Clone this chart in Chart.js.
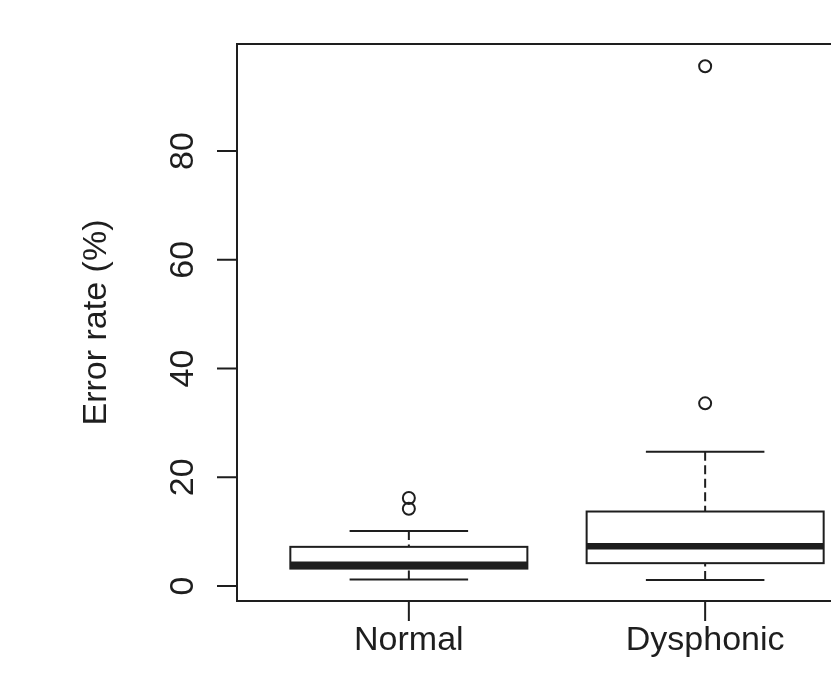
<!DOCTYPE html>
<html><head><meta charset="utf-8">
<script src="https://cdn.jsdelivr.net/npm/chart.js@4.4.1/dist/chart.umd.min.js"></script>
<style>
html,body{margin:0;padding:0;background:#fff;overflow:hidden;width:831px;height:691px}
#wrap{position:absolute;left:0;top:0;width:880px;height:691px}
</style>
</head><body><div id="wrap"><canvas id="c" width="880" height="691"></canvas></div>
<script>
const categories = ['Normal', 'Dysphonic'];
const whiskerLow = [1.2, 1.1];
const q1 = [3.2, 4.2];
const median = [3.9, 7.3];
const q3 = [7.2, 13.7];
const whiskerHigh = [10.1, 24.7];
const outliers = [[16.2, 14.2], [33.6, 95.6]];
const yTicks = [0, 20, 40, 60, 80];
const yTitle = 'Error rate (%)';

const FONT = '34px "Liberation Sans", Arial, sans-serif';
const INK = '#1e1e1e';

const outlierPoints = [];
outliers.forEach((arr, i) => arr.forEach(v => outlierPoints.push({x: i + 1, y: v})));

const boxPlugin = {
  id: 'boxplot',
  beforeDatasetsDraw(chart) {
    const ctx = chart.ctx, xs = chart.scales.x, ys = chart.scales.y;
    ctx.save();
    ctx.strokeStyle = INK;
    ctx.lineCap = 'butt';
    categories.forEach((c, i) => {
      const pos = i + 1;
      const xc = xs.getPixelForValue(pos);
      const bl = xs.getPixelForValue(pos - 0.4), br = xs.getPixelForValue(pos + 0.4);
      const cl = xs.getPixelForValue(pos - 0.2), cr = xs.getPixelForValue(pos + 0.2);
      const yLo = ys.getPixelForValue(whiskerLow[i]), yQ1 = ys.getPixelForValue(q1[i]);
      const yMed = ys.getPixelForValue(median[i]), yQ3 = ys.getPixelForValue(q3[i]);
      const yHi = ys.getPixelForValue(whiskerHigh[i]);
      ctx.lineWidth = 2;
      ctx.setLineDash([9, 4.5]);
      ctx.beginPath(); ctx.moveTo(xc, yLo); ctx.lineTo(xc, yQ1); ctx.stroke();
      ctx.beginPath(); ctx.moveTo(xc, yHi); ctx.lineTo(xc, yQ3); ctx.stroke();
      ctx.setLineDash([]);
      ctx.beginPath(); ctx.moveTo(cl, yLo); ctx.lineTo(cr, yLo); ctx.stroke();
      ctx.beginPath(); ctx.moveTo(cl, yHi); ctx.lineTo(cr, yHi); ctx.stroke();
      ctx.strokeRect(bl, yQ3, br - bl, yQ1 - yQ3);
      ctx.lineWidth = 6.5;
      ctx.beginPath(); ctx.moveTo(bl, yMed); ctx.lineTo(br, yMed); ctx.stroke();
    });
    ctx.restore();
  },
  afterDraw(chart) {
    const ctx = chart.ctx, xs = chart.scales.x, ys = chart.scales.y, a = chart.chartArea;
    ctx.save();
    ctx.strokeStyle = INK; ctx.lineWidth = 2;
    ctx.strokeRect(a.left, a.top, a.right - a.left, a.bottom - a.top);
    ctx.beginPath();
    yTicks.forEach(t => { const y = ys.getPixelForValue(t); ctx.moveTo(a.left - 20, y); ctx.lineTo(a.left, y); });
    categories.forEach((c, i) => { const x = xs.getPixelForValue(i + 1); ctx.moveTo(x, a.bottom); ctx.lineTo(x, a.bottom + 20); });
    ctx.stroke();
    ctx.fillStyle = INK; ctx.font = FONT;
    ctx.textAlign = 'center'; ctx.textBaseline = 'alphabetic';
    yTicks.forEach(t => {
      const y = ys.getPixelForValue(t);
      ctx.save(); ctx.translate(193, y); ctx.rotate(-Math.PI / 2); ctx.fillText(String(t), 0, 0); ctx.restore();
    });
    ctx.save(); ctx.translate(106, (a.top + a.bottom) / 2); ctx.rotate(-Math.PI / 2); ctx.fillText(yTitle, 0, 0); ctx.restore();
    categories.forEach((c, i) => { ctx.fillText(c, xs.getPixelForValue(i + 1), 650); });
    ctx.restore();
  }
};

new Chart(document.getElementById('c'), {
  type: 'scatter',
  data: { datasets: [{
    data: outlierPoints,
    pointRadius: 6,
    pointBorderWidth: 2,
    pointBorderColor: INK,
    pointBackgroundColor: 'rgba(0,0,0,0)',
    showLine: false
  }]},
  options: {
    responsive: false,
    animation: false,
    events: [],
    layout: { autoPadding: false, padding: { left: 237, top: 44, right: 3, bottom: 90 } },
    plugins: { legend: { display: false }, tooltip: { enabled: false } },
    scales: {
      x: { type: 'linear', min: 0.42, max: 2.58, display: false },
      y: { type: 'linear', min: -2.76, max: 99.7, display: false }
    }
  },
  plugins: [boxPlugin]
});
</script>
</body></html>
